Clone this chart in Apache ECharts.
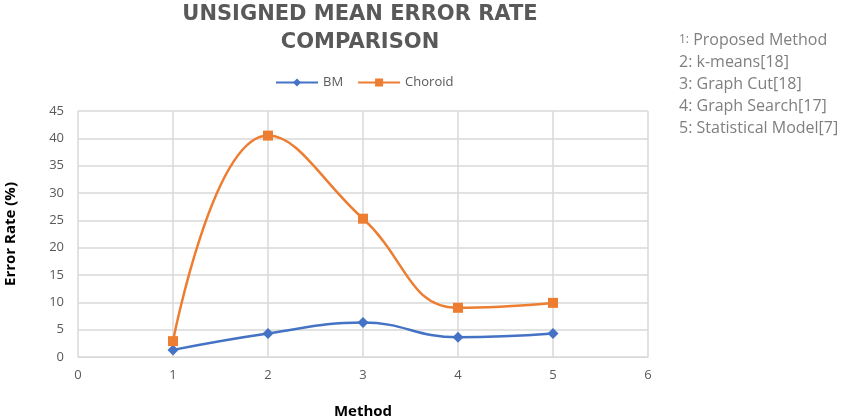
<!DOCTYPE html>
<html><head><meta charset="utf-8">
<script src="https://cdn.jsdelivr.net/npm/echarts@6/dist/echarts.min.js"></script>
<style>html,body{margin:0;padding:0;background:#fff}#c{width:846px;height:420px}</style>
</head><body><div id="c"></div>
<script>
const methods = [1, 2, 3, 4, 5];
const bmValues = [1.3, 4.3, 6.3, 3.6, 4.3];
const choroidValues = [2.9, 40.5, 25.3, 9.0, 9.9];
const methodNotes = ['Proposed Method', 'k-means[18]', 'Graph Cut[18]', 'Graph Search[17]', 'Statistical Model[7]'];

const chart = echarts.init(document.getElementById('c'));
const noteGraphics = methodNotes.map((t, i) => ({
  type: 'text', left: 679, top: 32 + i * 22,
  style: {
    text: (i === 0 ? '{s|1:} ' : (i + 1) + ': ') + t,
    rich: { s: { fontSize: 12, fill: '#7f7f7f', fontFamily: 'Open Sans' } },
    fontSize: 16, fill: '#7f7f7f', fontFamily: 'Open Sans'
  }
}));
chart.setOption({
  animation: false,
  title: [
    { text: 'UNSIGNED MEAN ERROR RATE', left: 355, top: -1, textAlign: 'center',
      textStyle: { fontSize: 21, fontWeight: 'bold', color: '#595959', fontFamily: 'DejaVu Sans' } },
    { text: 'COMPARISON', left: 355, top: 27, textAlign: 'center',
      textStyle: { fontSize: 21, fontWeight: 'bold', color: '#595959', fontFamily: 'DejaVu Sans' } }
  ],
  legend: {
    top: 71, left: 270, itemWidth: 42, itemHeight: 10, itemGap: 14,
    textStyle: { fontSize: 13, color: '#595959', fontFamily: 'Open Sans' },
    data: ['BM', 'Choroid']
  },
  grid: { left: 78, right: 198, top: 111, bottom: 63, containLabel: false, outerBoundsMode: 'none' },
  xAxis: {
    type: 'value', min: 0, max: 6, interval: 1,
    name: 'Method', nameLocation: 'middle', nameGap: 47,
    nameTextStyle: { fontSize: 15, fontWeight: 'bold', color: '#000', fontFamily: 'Open Sans' },
    axisLine: { lineStyle: { color: '#d9d9d9' } }, axisTick: { show: false },
    axisLabel: { fontSize: 13, color: '#595959', margin: 12, fontFamily: 'Open Sans' },
    splitLine: { show: true, lineStyle: { color: '#d9d9d9', width: 1.5 } }
  },
  yAxis: {
    type: 'value', min: 0, max: 45, interval: 5,
    name: 'Error Rate (%)', nameLocation: 'middle', nameGap: 60,
    nameTextStyle: { fontSize: 15, fontWeight: 'bold', color: '#000', fontFamily: 'Open Sans' },
    axisLine: { show: false }, axisTick: { show: false },
    axisLabel: { fontSize: 13, color: '#595959', margin: 14, fontFamily: 'Open Sans' },
    splitLine: { lineStyle: { color: '#d9d9d9', width: 1.5 } }
  },
  series: [
    { name: 'BM', type: 'line', smooth: 0.45, symbol: 'diamond', symbolSize: 11,
      data: methods.map((m, i) => [m, bmValues[i]]),
      lineStyle: { color: '#4472C4', width: 2.5 }, itemStyle: { color: '#4472C4' } },
    { name: 'Choroid', type: 'line', smooth: 0.45, symbol: 'rect', symbolSize: 10,
      data: methods.map((m, i) => [m, choroidValues[i]]),
      lineStyle: { color: '#ED7D31', width: 2.5 }, itemStyle: { color: '#ED7D31' } }
  ],
  graphic: noteGraphics
});
</script></body></html>
